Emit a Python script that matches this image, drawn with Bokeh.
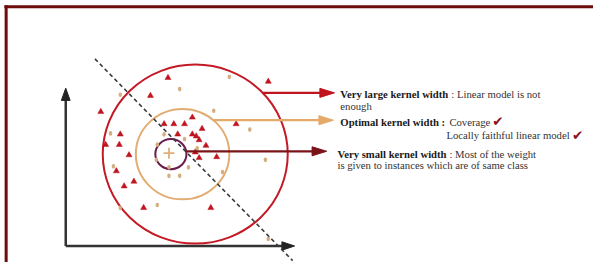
from bokeh.plotting import figure
from bokeh.models import Range1d
from bokeh.core.properties import value
from bokeh.embed import file_html
from bokeh.resources import INLINE

# ---- data (diagram coordinates, y grows downward) ----
red_x = [172, 275, 154, 103, 197, 168, 178, 189, 242, 207, 123, 182, 197, 201, 204,
         108, 122, 211, 132, 200, 222, 204, 119, 137, 127, 147, 216]
red_y = [82, 86, 101, 118, 124, 131, 131, 131, 131, 136, 142, 142, 142, 144, 148,
         153, 153, 154, 164, 161, 166, 167, 181, 192, 197, 220, 220]
tan_x = [235, 184, 123, 219, 256, 113, 168, 189, 161, 202, 160, 272, 116, 173, 193,
         173, 184, 228, 161, 123, 275]
tan_y = [81, 94, 100, 117, 137, 141, 142, 147, 153, 157, 169, 169, 176, 177, 177,
         186, 186, 182, 217, 220, 253]

instance_x = [173]
instance_y = [162]

kernel_cx = [200, 187, 175]
kernel_cy = [163, 163, 163]
kernel_r = [95, 48, 16]
kernel_colors = ["#c41a26", "#e2ad72", "#6a1a4c"]

arrow_y = [98, 127, 160]
arrow_tip = [343, 342, 335]
arrow_colors = ["#c0141e", "#e3aa6a", "#7a1418"]

boundary_x = [97, 300]
boundary_y = [62, 276]

axis_origin = (67, 260.5)
axis_y_tip = 93
axis_x_tip = 302

bold_texts = ["Very large kernel width", "Optimal kernel width :", "Very small kernel width"]
bold_x = [349, 349, 346]
bold_y = [99, 129, 163]
plain_texts = [": Linear model is not", "enough", "Coverage",
               "Locally faithful linear model", ": Most of the weight",
               "is given to instances which are of same class"]
plain_x = [463, 349, 461, 458, 461, 346]
plain_y = [99, 112, 129, 143, 163, 175]
check_x = [505, 587]
check_y = [128, 143]

# full extent of the diagram
EXT_W, EXT_H = 609, 278

p = figure(width=593, height=262, output_backend="svg", toolbar_location=None,
           x_range=Range1d(0, EXT_W), y_range=Range1d(EXT_H, 0),
           min_border=0, outline_line_color=None)
p.axis.visible = False
p.grid.visible = False
p.background_fill_color = "white"
p.border_fill_color = "white"

# frame
p.segment(x0=[4, 5.8], y0=[6.5, 5], x1=[EXT_W, 5.8], y1=[6.5, EXT_H],
          line_color="#6e0b0b", line_width=3)

# axes arrows
ox, oy = axis_origin
p.line([ox, ox], [oy, axis_y_tip + 10], line_color="#333333", line_width=2.5)
p.line([ox, axis_x_tip - 10], [oy, oy], line_color="#333333", line_width=2.5)
p.patches(xs=[[ox, ox - 4.5, ox + 4.5], [axis_x_tip, axis_x_tip - 13, axis_x_tip - 13]],
          ys=[[axis_y_tip, axis_y_tip + 13, axis_y_tip + 13], [oy, oy - 4.5, oy + 4.5]],
          fill_color="#222222", line_color="#222222", line_width=1)

# kernel circles
p.ellipse(x=kernel_cx, y=kernel_cy, width=[2 * r for r in kernel_r],
          height=[2 * r for r in kernel_r], fill_color=None,
          line_color=kernel_colors, line_width=2)

# points
p.scatter(x=red_x, y=red_y, marker="triangle", size=6, fill_color="#c0141e",
          line_color="#c0141e", line_width=0.5)
p.ellipse(x=tan_x, y=tan_y, width=3.6, height=5, fill_color="#d4ad80",
          line_color=None)
p.scatter(x=instance_x, y=instance_y, marker="cross", size=11, line_color="#e0b07a",
          line_width=1.8)

# decision boundary
p.line(boundary_x, boundary_y, line_color="#3a3a3a", line_width=1.6, line_dash="4 3")

# arrows from kernels to labels
for cx, cy, r, ay, tip, col in zip(kernel_cx, kernel_cy, kernel_r, arrow_y, arrow_tip, arrow_colors):
    dy = ay - cy
    start = cx + (max(r * r - dy * dy, 0)) ** 0.5
    L = 15
    p.line([start, tip - L + 1], [ay, ay], line_color=col, line_width=2.3)
    p.patch([tip, tip - L, tip - L], [ay, ay - 4.8, ay + 4.8], fill_color=col,
            line_color=col, line_width=1)

# texts
p.text(x=bold_x, y=bold_y, text=bold_texts, text_font=value("Liberation Serif"),
       text_font_style="bold", text_font_size="10.7px", text_color="#1a1a1a",
       text_baseline="alphabetic", text_align="left")
p.text(x=plain_x, y=plain_y, text=plain_texts, text_font=value("Liberation Serif"),
       text_font_size="10.7px", text_color="#333333",
       text_baseline="alphabetic", text_align="left")
p.text(x=check_x, y=check_y, text=["\u2714", "\u2714"], text_font=value("DejaVu Sans"),
       text_font_size="13.5px", text_color="#8b1020",
       text_baseline="alphabetic", text_align="left")

open("out.html", "w").write(file_html(p, INLINE))
